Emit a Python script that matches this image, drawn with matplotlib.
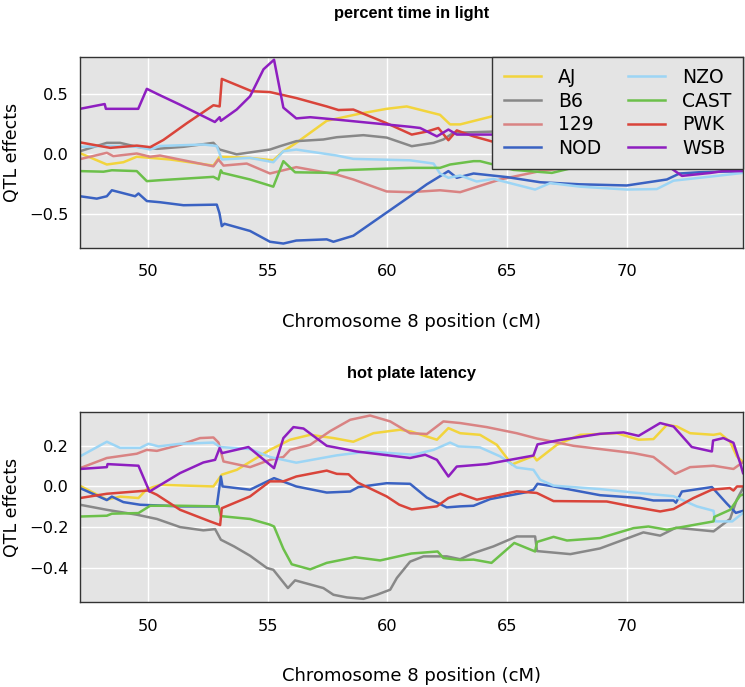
import matplotlib.pyplot as plt

strains = ["AJ", "B6", "129", "NOD", "NZO", "CAST", "PWK", "WSB"]
colors = ["#F2D43C", "#888888", "#D98383", "#3A62C2",
          "#9CD5F5", "#6CC04A", "#D9443A", "#8E1EC0"]

# ---- percent time in light: (position cM, QTL effect) per strain
light_aj_pos = [47.17, 48.29, 48.98, 49.54, 50.93, 52.74, 53.0, 54.27, 55.24, 55.66, 56.2,
                57.47, 58.86, 59.97, 60.81, 62.2, 62.62, 63.04, 64.43, 66, 68, 70, 72, 74.85]
light_aj = [0.01, -0.085, -0.066, -0.02, -0.043, -0.094, -0.02, -0.03, -0.05, 0.026, 0.096,
            0.28, 0.34, 0.38, 0.40, 0.33, 0.25, 0.25, 0.32, 0.35, 0.35, 0.33, 0.3, 0.28]

light_b6_pos = [47.17, 48.29, 48.84, 49.54, 50.38, 51.49, 52.74, 53.0, 53.71, 55.1, 55.52,
                56.2, 57.33, 57.89, 59.0, 59.97, 61.02, 61.93, 62.34, 62.76, 64.43, 66, 68,
                70, 72, 74.85]
light_b6 = [0.026, 0.096, 0.096, 0.063, 0.046, 0.063, 0.096, 0.04, 0.0, 0.04, 0.068,
            0.11, 0.124, 0.143, 0.16, 0.14, 0.068, 0.096, 0.124, 0.18, 0.19, 0.2, 0.18,
            0.15, 0.1, 0.05]

light_129_pos = [47.17, 48.29, 48.56, 49.54, 50.1, 50.51, 52.74, 52.95, 53.16, 54.13, 55.1,
                 56.2, 57.89, 58.58, 59.97, 60.95, 62.2, 63.04, 64.71, 66.38, 68, 70, 72,
                 74.85]
light_129 = [-0.04, 0.013, -0.015, 0.007, -0.02, -0.01, -0.10, -0.043, -0.094, -0.077, -0.16,
             -0.107, -0.169, -0.21, -0.31, -0.316, -0.30, -0.316, -0.21, -0.14, -0.1, -0.08,
             -0.08, -0.08]

light_nod_pos = [47.17, 47.87, 48.29, 48.5, 49.47, 49.61, 49.96, 50.51, 51.49, 52.88, 52.99,
                 53.09, 53.2, 54.27, 55.1, 55.66, 56.2, 57.47, 57.75, 58.58, 60.95, 61.65,
                 62.55, 62.9, 63.6, 64.99, 66.38, 68, 70, 71.67, 72.2, 73, 74.85]
light_nod = [-0.35, -0.37, -0.35, -0.30, -0.35, -0.327, -0.39, -0.40, -0.425, -0.42, -0.49,
             -0.60, -0.58, -0.64, -0.73, -0.745, -0.72, -0.71, -0.73, -0.68, -0.35, -0.25,
             -0.14, -0.196, -0.16, -0.19, -0.233, -0.25, -0.26, -0.21, -0.16, -0.15, -0.14]

light_nzo_pos = [47.17, 48.29, 49.54, 50.1, 50.51, 52.32, 52.88, 53.09, 54.27, 55.24, 55.66,
                 56.2, 57.89, 58.58, 60.95, 61.93, 62.2, 62.55, 63.04, 63.73, 64.43, 66.17,
                 66.8, 68.05, 70.0, 71.25, 71.95, 73.76, 74.85]
light_nzo = [0.063, 0.07, 0.063, 0.04, 0.07, 0.082, 0.07, -0.043, -0.03, -0.066, 0.026,
             0.04, -0.01, -0.038, -0.05, -0.077, -0.16, -0.196, -0.177, -0.227, -0.205, -0.294,
             -0.24, -0.27, -0.294, -0.29, -0.22, -0.18, -0.155]

light_cast_pos = [47.17, 48.15, 48.5, 49.54, 49.96, 50.51, 52.74, 52.95, 53.05, 53.12, 54.27,
                  55.24, 55.66, 56.15, 57.89, 58.0, 60.95, 62.2, 62.62, 63.6, 63.87, 64.43,
                  65.27, 66.87, 68, 70, 72, 74.85]
light_cast = [-0.14, -0.145, -0.133, -0.14, -0.224, -0.216, -0.188, -0.21, -0.133, -0.155, -0.21,
              -0.27, -0.057, -0.15, -0.155, -0.133, -0.113, -0.113, -0.085, -0.057, -0.057, -0.085,
              -0.13, -0.155, -0.10, -0.08, -0.06, -0.05]

light_pwk_pos = [47.17, 48.43, 49.54, 50.1, 50.65, 51.63, 52.74, 53.0, 53.09, 54.34, 55.1,
                 56.2, 57.47, 57.96, 58.58, 59.97, 61.02, 61.65, 62.13, 62.55, 62.9, 63.6,
                 64.43, 66, 68, 70, 72, 74.85]
light_pwk = [0.10, 0.054, 0.073, 0.06, 0.12, 0.26, 0.41, 0.40, 0.63, 0.527, 0.52,
             0.47, 0.40, 0.37, 0.374, 0.26, 0.165, 0.19, 0.22, 0.118, 0.20, 0.15,
             0.104, 0.06, 0.03, 0.0, -0.02, -0.05]

light_wsb_pos = [47.17, 48.2, 48.25, 49.6, 49.96, 50.44, 51.34, 52.8, 53.0, 53.05, 53.71,
                 54.27, 54.55, 54.83, 55.27, 55.66, 56.2, 56.78, 57.89, 60.95, 61.37, 62.07,
                 62.55, 62.9, 64.4, 66, 68, 70, 71.8, 72.3, 73.5, 74.0, 74.85]
light_wsb = [0.38, 0.42, 0.38, 0.38, 0.547, 0.50, 0.415, 0.27, 0.31, 0.28, 0.374,
             0.485, 0.597, 0.71, 0.79, 0.39, 0.30, 0.31, 0.29, 0.23, 0.22, 0.15,
             0.207, 0.165, 0.165, 0.12, 0.05, -0.03, -0.11, -0.18, -0.155, -0.14, -0.14]

# ---- hot plate latency
hot_aj_pos = [47.17, 48.29, 48.84, 49.61, 49.96, 50.51, 52.74, 53.09, 53.72, 55.1, 55.94,
              56.78, 57.75, 58.58, 59.42, 60.53, 61.0, 62.07, 62.55, 63.04, 63.87, 64.57,
              65.2, 66.1, 66.24, 67.08, 68.05, 69.58, 70.49, 71.11, 71.67, 72.09, 72.64,
              73.62, 73.9, 74.31, 74.59, 74.85]
hot_aj = [0.003, -0.065, -0.05, -0.057, -0.013, 0.008, 0.0, 0.058, 0.082, 0.18, 0.23,
          0.254, 0.238, 0.22, 0.262, 0.279, 0.27, 0.23, 0.287, 0.262, 0.254, 0.205,
          0.108, 0.15, 0.128, 0.205, 0.254, 0.262, 0.23, 0.233, 0.303, 0.295, 0.262,
          0.254, 0.26, 0.22, 0.148, 0.12]

hot_b6_pos = [47.17, 48.29, 49.54, 50.38, 51.35, 52.32, 52.81, 53.05, 53.6, 54.27, 54.97,
              55.24, 55.85, 56.15, 57.33, 57.75, 58.31, 59.0, 59.56, 60.12, 60.4, 60.95,
              61.51, 62.48, 63.04, 63.6, 64.43, 65.4, 66.17, 66.25, 67.64, 68.88, 70.69,
              71.39, 72.05, 73.62, 74.31, 74.59, 74.85]
hot_b6 = [-0.09, -0.115, -0.139, -0.16, -0.2, -0.216, -0.21, -0.262, -0.295, -0.341, -0.401,
          -0.41, -0.5, -0.462, -0.5, -0.533, -0.546, -0.553, -0.533, -0.508, -0.45, -0.37,
          -0.344, -0.344, -0.358, -0.328, -0.295, -0.246, -0.246, -0.318, -0.333, -0.305, -0.226,
          -0.242, -0.203, -0.221, -0.16, -0.065, -0.008]

hot_129_pos = [47.17, 48.29, 49.54, 49.96, 50.38, 51.35, 52.18, 52.74, 52.95, 53.16, 54.27,
               55.1, 55.66, 55.94, 56.78, 57.61, 58.45, 59.28, 60.12, 60.95, 61.65, 62.34,
               63.04, 64.15, 65.4, 66.24, 67.77, 70.28, 71.11, 72.02, 72.64, 73.62, 74.45,
               74.85]
hot_129 = [0.09, 0.14, 0.161, 0.18, 0.175, 0.205, 0.238, 0.241, 0.216, 0.123, 0.095,
           0.131, 0.145, 0.18, 0.205, 0.272, 0.328, 0.349, 0.32, 0.262, 0.258, 0.32,
           0.312, 0.292, 0.262, 0.236, 0.2, 0.164, 0.145, 0.062, 0.095, 0.102, 0.086,
           0.12]

hot_nod_pos = [47.17, 48.29, 48.5, 48.98, 49.68, 51.35, 52.88, 53.05, 53.12, 54.27, 55.27,
               56.2, 57.47, 58.45, 58.79, 59.97, 60.95, 61.65, 62.48, 63.04, 63.6, 64.3,
               65.82, 66.1, 66.27, 66.94, 68.88, 70.56, 71.11, 71.95, 72.05, 72.3, 73.55,
               74.18, 74.55, 74.85]
hot_nod = [-0.008, -0.067, -0.05, -0.077, -0.09, -0.098, -0.098, 0.049, 0.0, -0.016, 0.041,
           0.0, -0.03, -0.025, -0.003, 0.016, 0.013, -0.055, -0.103, -0.098, -0.095, -0.062,
           -0.028, -0.016, 0.013, 0.0, -0.043, -0.057, -0.069, -0.069, -0.08, -0.025, -0.003,
           -0.085, -0.13, -0.12]

hot_nzo_pos = [47.17, 48.29, 48.84, 49.68, 50.03, 50.45, 51.35, 52.74, 53.02, 54.27, 55.1,
               56.2, 57.89, 59.2, 61.09, 61.93, 62.62, 62.97, 63.87, 64.71, 65.4, 66.1,
               66.38, 66.94, 68.88, 70.28, 71.95, 72.92, 73.62, 73.69, 74.4, 74.85]
hot_nzo = [0.148, 0.22, 0.19, 0.19, 0.21, 0.197, 0.21, 0.216, 0.194, 0.184, 0.145,
           0.117, 0.153, 0.172, 0.156, 0.18, 0.216, 0.197, 0.192, 0.148, 0.093, 0.082,
           0.033, 0.004, -0.013, -0.03, -0.048, -0.098, -0.12, -0.172, -0.172, -0.13]

hot_cast_pos = [47.17, 48.29, 48.5, 49.61, 50.1, 51.35, 52.95, 53.05, 54.27, 55.1, 55.27,
                55.66, 56.01, 56.78, 57.47, 58.65, 59.7, 61.0, 62.1, 62.34, 63.04, 63.6,
                64.35, 65.3, 66.17, 66.25, 66.94, 67.5, 68.88, 70.28, 70.9, 71.67, 73.62,
                73.65, 74.31, 74.73, 74.85]
hot_cast = [-0.148, -0.144, -0.134, -0.131, -0.095, -0.095, -0.098, -0.146, -0.16, -0.188, -0.197,
            -0.307, -0.383, -0.408, -0.376, -0.348, -0.364, -0.33, -0.32, -0.352, -0.362, -0.36,
            -0.376, -0.278, -0.32, -0.273, -0.248, -0.266, -0.254, -0.205, -0.197, -0.213, -0.172,
            -0.15, -0.115, -0.045, -0.04]

hot_pwk_pos = [47.17, 48.29, 50.0, 50.38, 51.35, 52.6, 53.02, 53.09, 54.27, 55.1, 55.66,
               56.2, 57.47, 57.89, 58.38, 58.75, 59.97, 60.5, 61.02, 62.07, 62.55, 63.04,
               63.74, 65.4, 66.24, 66.94, 69.16, 70.28, 71.39, 71.95, 72.78, 73.55, 74.3,
               74.45, 74.6, 74.85]
hot_pwk = [-0.057, -0.036, -0.02, -0.041, -0.115, -0.172, -0.19, -0.107, -0.049, 0.025, 0.025,
           0.049, 0.078, 0.062, 0.06, 0.02, -0.049, -0.09, -0.113, -0.098, -0.057, -0.036,
           -0.065, -0.024, -0.032, -0.072, -0.074, -0.10, -0.123, -0.111, -0.057, -0.016, -0.008,
           -0.02, 0.0, 0.0]

hot_wsb_pos = [47.17, 48.29, 48.32, 49.61, 50.07, 51.35, 52.32, 52.81, 53.0, 53.1, 54.2,
               55.27, 55.66, 56.08, 56.5, 57.47, 58.72, 60.95, 61.58, 62.07, 62.55, 62.9,
               64.15, 66.1, 66.27, 67.08, 68.88, 69.86, 70.49, 71.39, 71.95, 72.71, 73.55,
               73.6, 74.03, 74.45, 74.73, 74.85]
hot_wsb = [0.086, 0.095, 0.11, 0.102, -0.025, 0.066, 0.118, 0.131, 0.189, 0.164, 0.194,
           0.09, 0.238, 0.292, 0.285, 0.2, 0.172, 0.14, 0.156, 0.131, 0.049, 0.098,
           0.11, 0.152, 0.207, 0.226, 0.259, 0.266, 0.249, 0.312, 0.295, 0.194, 0.172,
           0.226, 0.238, 0.215, 0.115, 0.066]

light_series = [(light_aj_pos, light_aj), (light_b6_pos, light_b6), (light_129_pos, light_129),
                (light_nod_pos, light_nod), (light_nzo_pos, light_nzo), (light_cast_pos, light_cast),
                (light_pwk_pos, light_pwk), (light_wsb_pos, light_wsb)]
hot_series = [(hot_aj_pos, hot_aj), (hot_b6_pos, hot_b6), (hot_129_pos, hot_129),
              (hot_nod_pos, hot_nod), (hot_nzo_pos, hot_nzo), (hot_cast_pos, hot_cast),
              (hot_pwk_pos, hot_pwk), (hot_wsb_pos, hot_wsb)]

bg = "#E4E4E4"
fig = plt.figure(figsize=(7.45, 6.87), dpi=100)
ax1 = fig.add_axes([0.1074, 0.6394, 0.8893, 0.2780])
ax2 = fig.add_axes([0.1074, 0.1233, 0.8893, 0.2766])


def style_panel(ax, title, yticks, ylim, title_pad):
    ax.set_facecolor(bg)
    ax.set_xlim(47.17, 74.83)
    ax.set_ylim(*ylim)
    ax.set_xticks([50, 55, 60, 65, 70])
    ax.set_yticks(yticks)
    ax.grid(True, color="white", linewidth=1.0)
    ax.set_axisbelow(True)
    ax.tick_params(length=0, labelsize=11.7)
    ax.tick_params(axis="x", pad=12)
    ax.tick_params(axis="y", pad=8)
    for sp in ax.spines.values():
        sp.set_color("#333333")
        sp.set_linewidth(1.0)
    ax.set_xlabel("Chromosome 8 position (cM)", fontsize=13, labelpad=24)
    ax.set_ylabel("QTL effects", fontsize=12.5, labelpad=6)
    ax.set_title(title, fontsize=11.8, fontweight="bold", family="Liberation Sans",
                 pad=title_pad)


for ax, series in [(ax1, light_series), (ax2, hot_series)]:
    for (pos, eff), name, col in zip(series, strains, colors):
        ax.plot(pos, eff, color=col, linewidth=1.8, label=name, solid_joinstyle="round")

style_panel(ax1, "percent time in light", [-0.5, 0.0, 0.5], (-0.78, 0.815), 28)
style_panel(ax2, "hot plate latency", [-0.4, -0.2, 0.0, 0.2], (-0.57, 0.365), 25)
ax1.set_yticklabels(["\u22120.5", "0.0", "0.5"])
ax2.set_yticklabels(["\u22120.4", "\u22120.2", "0.0", "0.2"])

leg = ax1.legend(loc="upper right", ncol=2, fontsize=13.5, frameon=True, fancybox=False,
                 borderaxespad=0, handlelength=2.0, handletextpad=0.9, columnspacing=1.4,
                 labelspacing=0.25, borderpad=0.6)
leg.get_frame().set_facecolor(bg)
leg.get_frame().set_edgecolor("#333333")
leg.get_frame().set_linewidth(1.0)
leg.get_frame().set_alpha(1)

fig.savefig("out.png", dpi=100)
